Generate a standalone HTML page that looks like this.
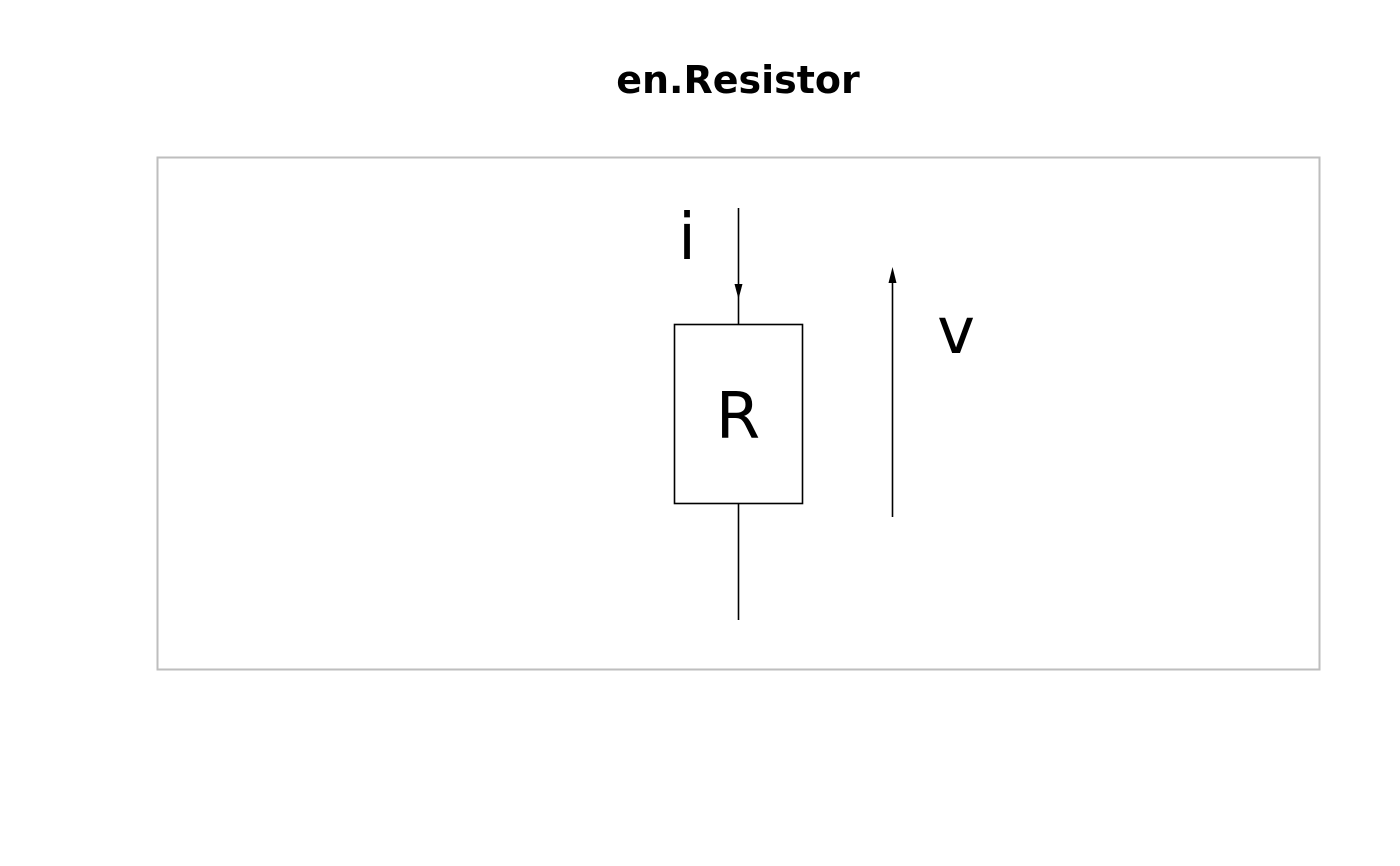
<!DOCTYPE html>
<html><head><meta charset="utf-8"><style>
html,body{margin:0;padding:0;background:#fff;}
svg{display:block;}
</style></head><body>
<svg width="1400" height="866" viewBox="0 0 1400 866" xmlns="http://www.w3.org/2000/svg">
<rect width="1400" height="866" fill="#fff"/>
<text x="738" y="93" text-anchor="middle" font-family="DejaVu Sans, sans-serif" font-weight="bold" font-size="38">en.Resistor</text>
<rect x="157.5" y="157.5" width="1162" height="512" fill="none" stroke="#bebebe" stroke-width="2"/>
<line x1="738.5" y1="208" x2="738.5" y2="324" stroke="#000" stroke-width="1.6"/>
<polygon points="734.5,284 742.5,284 738.5,299" fill="#000"/>
<rect x="674.5" y="324.5" width="128" height="179" fill="none" stroke="#000" stroke-width="1.6"/>
<line x1="738.5" y1="503" x2="738.5" y2="620" stroke="#000" stroke-width="1.6"/>
<line x1="892.5" y1="517" x2="892.5" y2="272" stroke="#000" stroke-width="1.6"/>
<polygon points="888.5,283 896.5,283 892.5,267" fill="#000"/>
<text x="687" y="259" text-anchor="middle" font-family="DejaVu Sans, sans-serif" font-size="64">i</text>
<text x="738" y="438" text-anchor="middle" font-family="DejaVu Sans, sans-serif" font-size="64">R</text>
<text x="956" y="353" text-anchor="middle" font-family="DejaVu Sans, sans-serif" font-size="64">v</text>
</svg>
</body></html>
